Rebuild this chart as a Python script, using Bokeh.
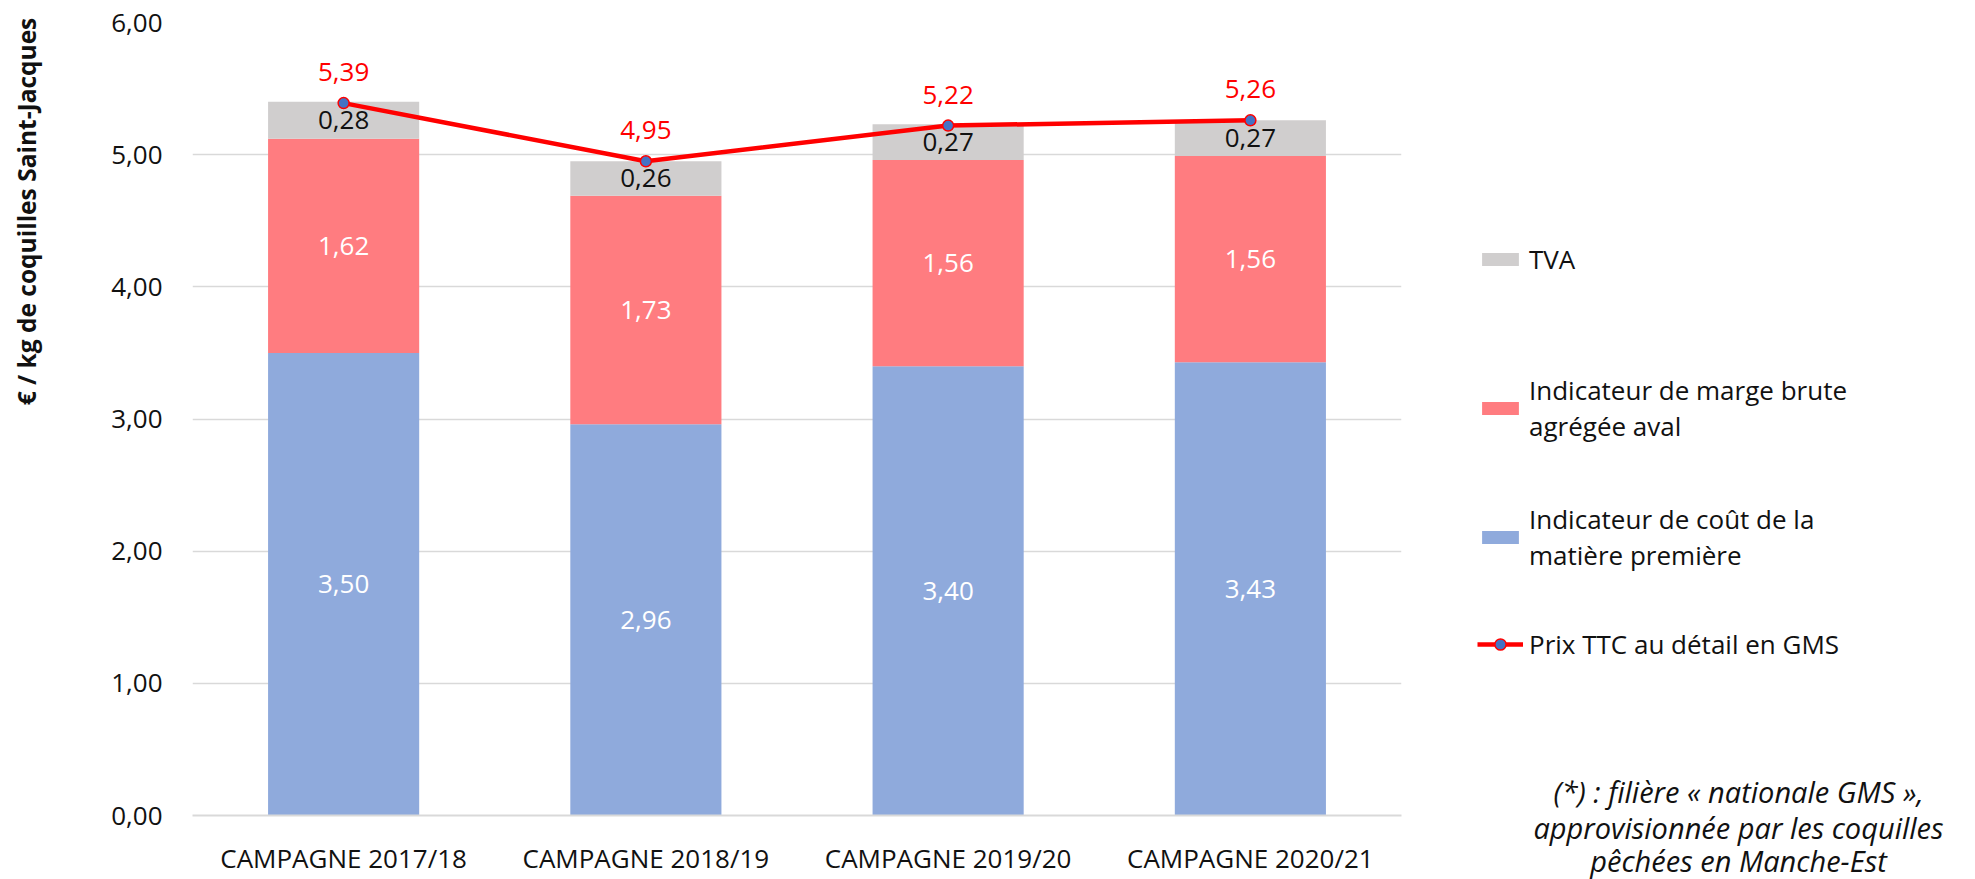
import math
from bokeh.plotting import figure
from bokeh.layouts import row, column
from bokeh.models import (ColumnDataSource, FactorRange, Range1d, FixedTicker, CustomJSTickFormatter,
                          Legend, LegendItem, Label)
from bokeh.core.properties import value
from bokeh.embed import file_html
from bokeh.resources import INLINE

# ---- data ----
categories = ["CAMPAGNE 2017/18", "CAMPAGNE 2018/19", "CAMPAGNE 2019/20", "CAMPAGNE 2020/21"]
cout_matiere = [3.50, 2.96, 3.40, 3.43]
marge_aval = [1.62, 1.73, 1.56, 1.56]
tva = [0.28, 0.26, 0.27, 0.27]
prix_ttc = [5.39, 4.95, 5.22, 5.26]
y_ticks = [0, 1, 2, 3, 4, 5, 6]

legend_labels = ["TVA", "Indicateur de marge brute\nagrégée aval",
                 "Indicateur de coût de la\nmatière première", "Prix TTC au détail en GMS"]
y_title = "€ / kg de coquilles Saint-Jacques"
footnote_lines = ["(*) : filière « nationale GMS »,",
                  "approvisionnée par les coquilles",
                  "pêchées en Manche-Est"]

FONT = "Open Sans"
FS = "26px"
BLUE = "#8FAADC"
PINK = "#FF7C80"
GREY = "#D0CECE"
RED = "#FF0000"
MARK = "#4472C4"
TXT = "#111111"
H = 879
W0 = 60
W1 = 1411 - W0
W2 = 564


def fmt(v):
    return f"{v:.2f}".replace(".", ",")


def blank_panel(width):
    f = figure(frame_width=width, frame_height=H, x_range=Range1d(0, width), y_range=Range1d(0, H),
               min_border=0, output_backend="svg", toolbar_location=None)
    f.axis.visible = False
    f.grid.visible = False
    f.outline_line_color = None
    f.background_fill_color = "white"
    f.border_fill_color = "white"
    return f


src = ColumnDataSource(dict(
    cat=categories, cout=cout_matiere, marge=marge_aval, tva=tva, prix=prix_ttc,
    cout_mid=[c / 2 for c in cout_matiere],
    marge_mid=[c + m / 2 for c, m in zip(cout_matiere, marge_aval)],
    tva_mid=[c + m + t / 2 for c, m, t in zip(cout_matiere, marge_aval, tva)],
    cout_lbl=[fmt(v) for v in cout_matiere],
    marge_lbl=[fmt(v) for v in marge_aval],
    tva_lbl=[fmt(v) for v in tva],
    prix_lbl=[fmt(v) for v in prix_ttc],
))

# ---- y title panel ----
t = blank_panel(W0)
t.add_layout(Label(x=26, y=H - 211, text=y_title, angle=math.pi / 2, text_align="center",
                   text_baseline="middle", text_font=FONT, text_font_size="24.5px",
                   text_font_style="bold", text_color=TXT))

# ---- main chart ----
p = figure(x_range=FactorRange(*categories, range_padding=0), y_range=Range1d(0, 6),
           frame_width=1209, frame_height=793,
           min_border_left=192 - W0, min_border_right=W1 - (192 - W0) - 1209, min_border_top=22,
           min_border_bottom=H - 22 - 793,
           output_backend="svg", toolbar_location=None)
p.outline_line_color = None
p.background_fill_color = "white"
p.border_fill_color = "white"

bars = p.vbar_stack(["cout", "marge", "tva"], x="cat", width=0.5, color=[BLUE, PINK, GREY],
                    line_color=None, source=src)
ln = p.line(x="cat", y="prix", source=src, line_color=RED, line_width=4.5)
sc = p.scatter(x="cat", y="prix", source=src, size=11, fill_color=MARK, line_color=RED, line_width=1.5)

common = dict(source=src, text_align="center", text_baseline="middle",
              text_font=value(FONT), text_font_size=FS)
p.text(x="cat", y="cout_mid", text="cout_lbl", text_color="white", **common)
p.text(x="cat", y="marge_mid", text="marge_lbl", text_color="white", **common)
p.text(x="cat", y="tva_mid", text="tva_lbl", text_color=TXT, **common)
p.text(x="cat", y="prix", text="prix_lbl", text_color=RED, y_offset=-31, **common)

p.yaxis.ticker = FixedTicker(ticks=y_ticks)
p.yaxis.formatter = CustomJSTickFormatter(code="return tick.toFixed(2).replace('.', ',');")
p.yaxis.axis_line_color = None
p.yaxis.major_tick_line_color = None
p.yaxis.minor_tick_line_color = None
p.yaxis.major_label_standoff = 24
p.yaxis.major_label_text_font = FONT
p.yaxis.major_label_text_font_size = FS
p.yaxis.major_label_text_color = TXT

p.xaxis.axis_line_color = "#D9D9D9"
p.xaxis.axis_line_width = 2
p.xaxis.major_tick_line_color = None
p.xaxis.minor_tick_line_color = None
p.xaxis.major_label_standoff = 18
p.xaxis.major_label_text_font = FONT
p.xaxis.major_label_text_font_size = FS
p.xaxis.major_label_text_color = TXT

p.xgrid.grid_line_color = None
p.ygrid.grid_line_color = "#D9D9D9"
p.ygrid.grid_line_width = 1.5

# ---- legend + footnote panel ----
q = blank_panel(W2)
nan = float("nan")
dummy = ColumnDataSource(dict(x=[nan], y=[nan]))
d_tva = q.vbar(x="x", top="y", width=1, color=GREY, line_color=None, source=dummy)
d_marge = q.vbar(x="x", top="y", width=1, color=PINK, line_color=None, source=dummy)
d_cout = q.vbar(x="x", top="y", width=1, color=BLUE, line_color=None, source=dummy)
d_ln = q.line(x="x", y="y", line_color=RED, line_width=4.5, source=dummy)
d_sc = q.scatter(x="x", y="y", size=11, fill_color=MARK, line_color=RED, line_width=1.5, source=dummy)

legend_renderers = [[d_tva], [d_marge], [d_cout], [d_ln, d_sc]]
legend_pos = [602, 435, 306, 217]
glyph_heights = [16, 16, 16, 28]
for lbl, rends, vy, gh in zip(legend_labels, legend_renderers, legend_pos, glyph_heights):
    lg = Legend(items=[LegendItem(label=lbl, renderers=rends)], location=(66, vy))
    lg.padding = 0
    lg.margin = 0
    lg.border_line_color = None
    lg.background_fill_alpha = 0
    lg.glyph_width = 46
    lg.glyph_height = gh
    lg.label_height = 30
    lg.label_standoff = 6
    lg.label_text_font = FONT
    lg.label_text_font_size = FS
    lg.label_text_color = TXT
    lg.label_text_line_height = 1.0
    q.add_layout(lg, "center")

for line_text, yy in zip(footnote_lines, [88, 52, 19]):
    q.add_layout(Label(x=327, y=yy, text=line_text, text_align="center", text_baseline="middle",
                       text_font=FONT, text_font_size="29px", text_font_style="italic",
                       text_color=TXT))

layout = row(column(t), p, column(q), spacing=0)
open("out.html", "w").write(file_html(layout, INLINE))
